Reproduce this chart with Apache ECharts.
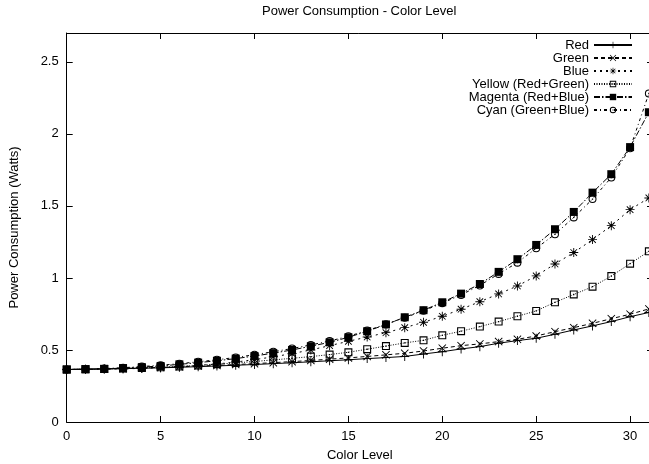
<!DOCTYPE html>
<html>
<head>
<meta charset="utf-8">
<script src="https://cdn.jsdelivr.net/npm/echarts@6/dist/echarts.min.js"></script>
<style>
html,body{margin:0;padding:0;background:#fff;}
#chart{width:649px;height:464px;}
</style>
</head>
<body>
<div id="chart"></div>
<script>
var levels = [0,1,2,3,4,5,6,7,8,9,10,11,12,13,14,15,16,17,18,19,20,21,22,23,24,25,26,27,28,29,30,31];
var red     = [0.365,0.366,0.368,0.370,0.373,0.376,0.380,0.384,0.389,0.394,0.399,0.405,0.411,0.418,0.425,0.432,0.440,0.447,0.455,0.472,0.488,0.507,0.523,0.547,0.565,0.581,0.609,0.639,0.667,0.697,0.731,0.760];
var green   = [0.365,0.367,0.369,0.372,0.375,0.379,0.383,0.388,0.393,0.399,0.405,0.412,0.419,0.427,0.436,0.445,0.455,0.466,0.477,0.493,0.512,0.530,0.542,0.558,0.574,0.597,0.627,0.655,0.685,0.717,0.748,0.785];
var blue    = [0.365,0.366,0.367,0.369,0.372,0.377,0.384,0.392,0.403,0.416,0.433,0.452,0.475,0.500,0.530,0.560,0.590,0.620,0.655,0.692,0.734,0.783,0.835,0.889,0.944,1.014,1.097,1.176,1.266,1.363,1.474,1.555];
var yellow  = [0.365,0.366,0.368,0.371,0.375,0.380,0.386,0.393,0.401,0.410,0.420,0.431,0.442,0.454,0.468,0.484,0.505,0.527,0.549,0.567,0.602,0.630,0.662,0.697,0.734,0.771,0.831,0.885,0.939,1.013,1.099,1.185];
var magenta = [0.364,0.366,0.369,0.374,0.381,0.389,0.400,0.412,0.425,0.440,0.458,0.478,0.500,0.526,0.553,0.588,0.630,0.677,0.727,0.776,0.831,0.891,0.958,1.042,1.130,1.229,1.338,1.458,1.592,1.720,1.908,2.150];
var cyan    = [0.365,0.367,0.371,0.377,0.385,0.394,0.405,0.418,0.432,0.448,0.467,0.488,0.510,0.535,0.562,0.595,0.635,0.678,0.724,0.772,0.825,0.882,0.948,1.028,1.106,1.206,1.303,1.420,1.547,1.697,1.900,2.280];
var names = ['Red','Green','Blue','Yellow (Red+Green)','Magenta (Red+Blue)','Cyan (Green+Blue)'];
var xTicks = [0,5,10,15,20,25,30];
var yTicks = [0,0.5,1,1.5,2,2.5];

var FONT = '"Liberation Sans", Arial, Helvetica, sans-serif';
var SYM_PLUS = 'path://M4.5,0H5.5V4.5H10V5.5H5.5V10H4.5V5.5H0V4.5H4.5Z';
var SYM_X = 'path://M0,0.8L0.8,0L5,4.2L9.2,0L10,0.8L5.8,5L10,9.2L9.2,10L5,5.8L0.8,10L0,9.2L4.2,5Z';
var SYM_STAR = 'path://M4.5,0H5.5V4.5H10V5.5H5.5V10H4.5V5.5H0V4.5H4.5Z M1,1.7L1.7,1L5,4.3L8.3,1L9,1.7L5.7,5L9,8.3L8.3,9L5,5.7L1.7,9L1,8.3L4.3,5Z';
var SYM_BOX = 'path://M0,0H10V10H0Z M1.4,1.4V8.6H8.6V1.4Z M4.2,4.2H5.8V5.8H4.2Z';
var SYM_CIRC = 'path://M5,0A5,5 0 1,1 4.99,0Z M5,1.3A3.7,3.7 0 1,0 5.01,1.3Z M4.2,4.2H5.8V5.8H4.2Z';

function pairs(arr){ return levels.map(function(x,i){ return [x, arr[i]]; }); }

var seriesDefs = [
  {name: names[0], data: red,     symbol: SYM_PLUS, size: 9, dash: 'solid'},
  {name: names[1], data: green,   symbol: SYM_X,    size: 8, dash: [4,3]},
  {name: names[2], data: blue,    symbol: SYM_STAR, size: 9, dash: [2,4]},
  {name: names[3], data: yellow,  symbol: SYM_BOX,  size: 8, dash: [1,1.5]},
  {name: names[4], data: magenta, symbol: 'rect',   size: 8, dash: [6,2,1.5,2]},
  {name: names[5], data: cyan,    symbol: SYM_CIRC, size: 8, dash: [3,3,1,3]}
];

var series = seriesDefs.map(function(d){
  return {
    name: d.name,
    type: 'line',
    data: pairs(d.data),
    symbol: d.symbol,
    symbolSize: d.size,
    symbolKeepAspect: true,
    showAllSymbol: true,
    animation: false,
    lineStyle: {color: '#000', width: 1, type: d.dash},
    itemStyle: {color: '#000', borderWidth: 0}
  };
});

var chart = echarts.init(document.getElementById('chart'), null, {renderer: 'canvas'});
chart.setOption({
  animation: false,
  backgroundColor: '#fff',
  title: {
    text: 'Power Consumption - Color Level',
    left: 262, top: 5, padding: 0,
    textStyle: {fontFamily: FONT, fontSize: 13, fontWeight: 'normal', color: '#000'}
  },
  legend: {
    data: names,
    orient: 'vertical',
    right: 16, top: 38.5, padding: 0,
    align: 'right',
    itemWidth: 38, itemHeight: 8, itemGap: 0,
    textStyle: {fontFamily: FONT, fontSize: 13, lineHeight: 13, color: '#000'}
  },
  grid: {left: 66.7, right: -4, top: 33, bottom: 42, containLabel: false, outerBoundsMode: 'none'},
  xAxis: [{
    type: 'value', min: 0, max: 31.22, interval: 5, position: 'bottom',
    name: 'Color Level', nameLocation: 'middle', nameGap: 27,
    nameTextStyle: {fontFamily: FONT, fontSize: 13, color: '#000'},
    axisLine: {show: true, onZero: false, lineStyle: {color: '#000', width: 1}},
    axisTick: {show: true, inside: true, length: 6, lineStyle: {color: '#000'}},
    axisLabel: {fontFamily: FONT, fontSize: 13, color: '#000', margin: 8,
      formatter: function(v){ return xTicks.indexOf(v) >= 0 ? String(v) : ''; }},
    splitLine: {show: false}
  },{
    type: 'value', min: 0, max: 31.22, interval: 5, position: 'top',
    axisLine: {show: true, onZero: false, lineStyle: {color: '#000', width: 1}},
    axisTick: {show: true, inside: true, length: 6, lineStyle: {color: '#000'}},
    axisLabel: {show: false}, splitLine: {show: false}
  }],
  yAxis: [{
    type: 'value', min: 0, max: 2.7, interval: 0.5, position: 'left',
    name: 'Power Consumption (Watts)', nameLocation: 'middle', nameGap: 46,
    nameTextStyle: {fontFamily: FONT, fontSize: 13, color: '#000'},
    axisLine: {show: true, onZero: false, lineStyle: {color: '#000', width: 1}},
    axisTick: {show: true, inside: true, length: 6, lineStyle: {color: '#000'}},
    axisLabel: {fontFamily: FONT, fontSize: 13, color: '#000', margin: 8,
      formatter: function(v){ return yTicks.indexOf(v) >= 0 ? String(v) : ''; }},
    splitLine: {show: false}
  },{
    type: 'value', min: 0, max: 2.7, interval: 0.5, position: 'right',
    axisLine: {show: true, onZero: false, lineStyle: {color: '#000', width: 1}},
    axisTick: {show: true, inside: true, length: 6, lineStyle: {color: '#000'}},
    axisLabel: {show: false}, splitLine: {show: false}
  }],
  series: series
});
</script>
</body>
</html>
